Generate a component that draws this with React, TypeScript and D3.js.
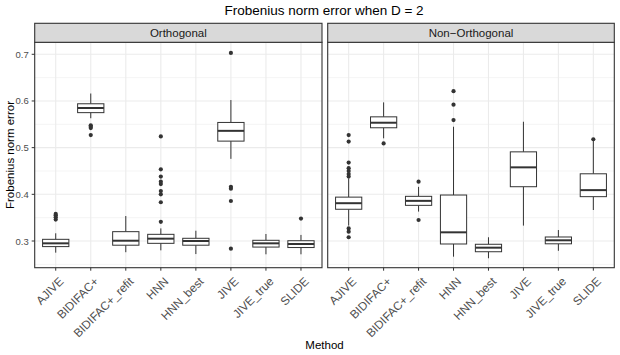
import React from "react";
import * as d3 from "d3";

const methods = ["AJIVE", "BIDIFAC+", "BIDIFAC+_refit", "HNN", "HNN_best", "JIVE", "JIVE_true", "SLIDE"];
const panelNames = ["Orthogonal", "Non\u2212Orthogonal"];
const yTicks = [0.3, 0.4, 0.5, 0.6, 0.7];
const yMinorTicks = [0.25, 0.35, 0.45, 0.55, 0.65];

// Orthogonal panel: whisker low, Q1, median, Q3, whisker high, outliers
const orthLow = [0.275, 0.563, 0.276, 0.28, 0.272, 0.476, 0.2715, 0.2715];
const orthQ1 = [0.288, 0.575, 0.291, 0.295, 0.291, 0.514, 0.287, 0.286];
const orthMed = [0.295, 0.585, 0.3006, 0.305, 0.3, 0.536, 0.295, 0.2936];
const orthQ3 = [0.3036, 0.594, 0.32, 0.3143, 0.3058, 0.554, 0.3015, 0.3006];
const orthHigh = [0.3165, 0.616, 0.3535, 0.327, 0.322, 0.602, 0.315, 0.313];
const orthOut = [
  [0.358, 0.355, 0.351, 0.346],
  [0.548, 0.545, 0.542, 0.527],
  [],
  [0.524, 0.4535, 0.438, 0.427, 0.422, 0.407, 0.4, 0.383, 0.341],
  [],
  [0.703, 0.416, 0.412, 0.3857, 0.2835],
  [],
  [0.348],
];

// Non-Orthogonal panel
const nonLow = [0.333, 0.52, 0.363, 0.2664, 0.263, 0.333, 0.279, 0.3664];
const nonQ1 = [0.368, 0.5426, 0.3764, 0.2936, 0.277, 0.4163, 0.294, 0.395];
const nonMed = [0.381, 0.5534, 0.386, 0.3186, 0.2857, 0.4578, 0.3015, 0.409];
const nonQ3 = [0.394, 0.566, 0.3957, 0.3985, 0.293, 0.491, 0.3086, 0.444];
const nonHigh = [0.434, 0.597, 0.416, 0.5448, 0.308, 0.5555, 0.3235, 0.516];
const nonOut = [
  [0.527, 0.513, 0.468, 0.456, 0.45, 0.4435, 0.438, 0.327, 0.32, 0.308],
  [0.509],
  [0.427, 0.345],
  [0.621, 0.592, 0.559],
  [],
  [],
  [],
  [0.518],
];

const W = 620;
const H = 355;
const plotTop = 42.3;
const plotBottom = 267.7;
const stripTop = 23.3;
const panelX = [
  [34.7, 322],
  [327.7, 614.3],
];

const font = "'Liberation Sans', Arial, sans-serif";

const y = d3.scaleLinear().domain([0.2428, 0.7257]).range([plotBottom, plotTop]);

const Panel = ({ idx, low, q1, med, q3, high, out }: any) => {
  const [x0, x1] = panelX[idx];
  const x = d3.scalePoint().domain(methods).range([x0, x1]).padding(0.6);
  const bw = x.step() * 0.75;
  return (
    <g>
      <rect x={x0} y={plotTop} width={x1 - x0} height={plotBottom - plotTop} fill="white" />
      {yMinorTicks.map((t) => (
        <line key={"mi" + t} x1={x0} x2={x1} y1={y(t)} y2={y(t)} stroke="#EBEBEB" strokeWidth={0.55} />
      ))}
      {yTicks.map((t) => (
        <line key={"ma" + t} x1={x0} x2={x1} y1={y(t)} y2={y(t)} stroke="#EBEBEB" strokeWidth={1.1} />
      ))}
      {methods.map((m) => (
        <line key={"v" + m} x1={x(m)} x2={x(m)} y1={plotTop} y2={plotBottom} stroke="#EBEBEB" strokeWidth={1.1} />
      ))}
      {methods.map((m, i) => {
        const cx = x(m) as number;
        return (
          <g key={"b" + m}>
            <line x1={cx} x2={cx} y1={y(high[i])} y2={y(q3[i])} stroke="#333333" strokeWidth={1} />
            <line x1={cx} x2={cx} y1={y(q1[i])} y2={y(low[i])} stroke="#333333" strokeWidth={1} />
            <rect
              x={cx - bw / 2}
              y={y(q3[i])}
              width={bw}
              height={y(q1[i]) - y(q3[i])}
              fill="white"
              stroke="#333333"
              strokeWidth={1}
            />
            <line x1={cx - bw / 2} x2={cx + bw / 2} y1={y(med[i])} y2={y(med[i])} stroke="#333333" strokeWidth={2} />
            {out[i].map((v: number, j: number) => (
              <circle key={j} cx={cx} cy={y(v)} r={2.1} fill="#333333" />
            ))}
          </g>
        );
      })}
      <rect x={x0} y={plotTop} width={x1 - x0} height={plotBottom - plotTop} fill="none" stroke="#333333" strokeWidth={1.1} />
      <rect x={x0} y={stripTop} width={x1 - x0} height={plotTop - stripTop} fill="#D9D9D9" stroke="#333333" strokeWidth={1.1} />
      <text x={(x0 + x1) / 2} y={(stripTop + plotTop) / 2 + 4} textAnchor="middle" fontSize={11.5} fill="#1A1A1A" fontFamily={font}>
        {panelNames[idx]}
      </text>
      {methods.map((m) => {
        const cx = x(m) as number;
        return (
          <g key={"t" + m}>
            <line x1={cx} x2={cx} y1={plotBottom} y2={plotBottom + 3} stroke="#333333" strokeWidth={1} />
            <text
              transform={`translate(${cx + 8.5},${plotBottom + 14.5}) rotate(-45)`}
              textAnchor="end"
              fontSize={11.8}
              fill="#4D4D4D"
              fontFamily={font}
            >
              {m}
            </text>
          </g>
        );
      })}
    </g>
  );
};

export default function App() {
  const [x0] = panelX[0];
  return (
    <div style={{ position: "absolute", left: 0, top: 0 }}>
      <svg width={W} height={H} style={{ display: "block", background: "white" }}>
        <rect width={W} height={H} fill="white" />
        <text x={324} y={15} textAnchor="middle" fontSize={13.5} fill="black" fontFamily={font}>
          Frobenius norm error when D = 2
        </text>
        <Panel idx={0} low={orthLow} q1={orthQ1} med={orthMed} q3={orthQ3} high={orthHigh} out={orthOut} />
        <Panel idx={1} low={nonLow} q1={nonQ1} med={nonMed} q3={nonQ3} high={nonHigh} out={nonOut} />
        {yTicks.map((t) => (
          <g key={"yt" + t}>
            <line x1={x0 - 3} x2={x0} y1={y(t)} y2={y(t)} stroke="#333333" strokeWidth={1} />
            <text x={x0 - 6} y={y(t) + 3.5} textAnchor="end" fontSize={9.5} fill="#4D4D4D" fontFamily={font}>
              {t.toFixed(1)}
            </text>
          </g>
        ))}
        <text
          transform={`translate(13.5,${(plotTop + plotBottom) / 2}) rotate(-90)`}
          textAnchor="middle"
          fontSize={11.5}
          fill="black"
          fontFamily={font}
        >
          Frobenius norm error
        </text>
        <text x={(panelX[0][0] + panelX[1][1]) / 2} y={349} textAnchor="middle" fontSize={11.5} fill="black" fontFamily={font}>
          Method
        </text>
      </svg>
    </div>
  );
}
